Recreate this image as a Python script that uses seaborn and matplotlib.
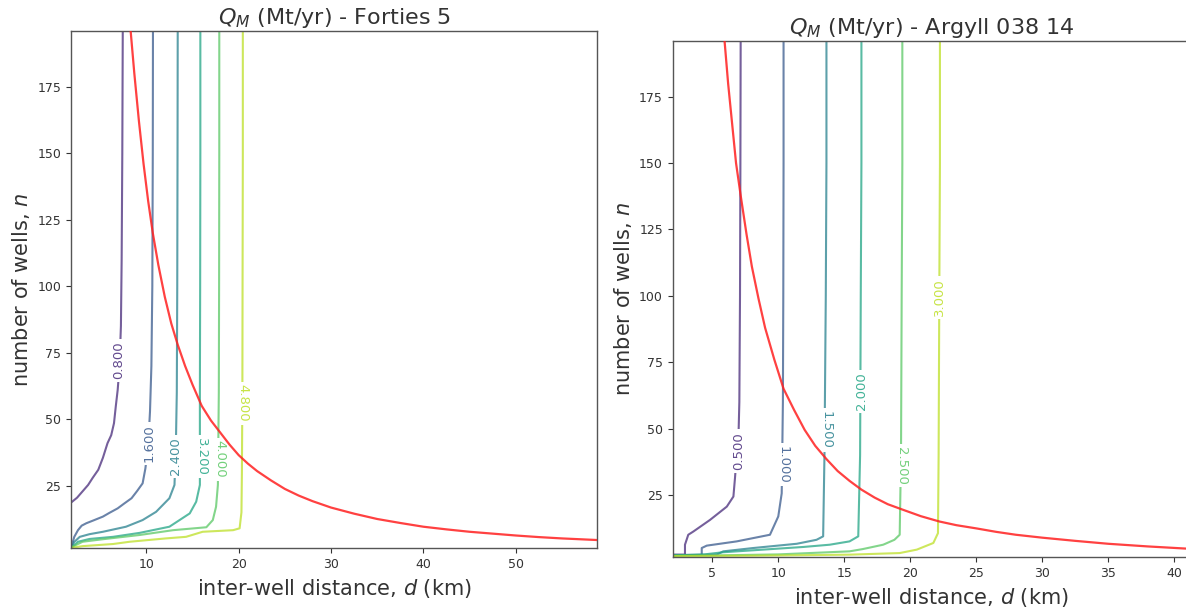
import matplotlib
matplotlib.use("Agg")
import matplotlib.pyplot as plt
import numpy as np
import seaborn as sns

# ---- Forties 5 : contour lines of Q_M ----------------------------------
forties_levels = ["0.800", "1.600", "2.400", "3.200", "4.000", "4.800"]
forties_d = [
    [7.45, 7.4, 7.33, 7.25, 7.1, 6.9, 6.7, 6.5, 6.2, 5.8, 5.3, 4.8, 4.2, 3.7, 3.0, 2.5, 1.9],
    [10.72, 10.7, 10.65, 10.55, 10.4, 10.2, 9.9, 9.6, 9.0, 8.4, 7.6, 6.9, 6.0, 5.3, 4.3, 3.5, 3.0, 2.6, 2.2, 1.9],
    [13.4, 13.38, 13.35, 13.3, 13.2, 13.05, 12.5, 11.06, 9.6, 7.8, 5.3, 3.85, 2.8, 2.2, 1.9],
    [15.85, 15.85, 15.83, 15.8, 15.8, 15.4, 14.7, 12.5, 9.3, 6.4, 3.85, 2.6, 1.95],
    [17.9, 17.9, 17.88, 17.85, 17.75, 17.55, 17.2, 16.5, 12.9, 9.3, 5.3, 3.1, 2.0],
    [20.45, 20.45, 20.42, 20.4, 20.35, 20.3, 20.1, 19.4, 16.1, 14.3, 12.1, 8.2, 6.4, 3.1, 1.9],
]
forties_n = [
    [196, 150, 110, 85, 70, 61, 55, 48.5, 44, 41, 35.5, 31, 28, 25.3, 22.5, 20.5, 18.8],
    [196, 150, 100, 70, 53, 40, 31.5, 25.9, 23, 20.3, 18.3, 16.5, 14.8, 13.4, 12, 10.9, 10, 8.3, 5.8, 2.1],
    [196, 150, 100, 60, 40, 25.3, 20.3, 15.2, 12.1, 9.6, 7.7, 6.8, 5.8, 3.9, 1.7],
    [196, 150, 100, 60, 25.3, 19, 14.6, 9.6, 7.3, 5.8, 5.0, 3.95, 1.8],
    [196, 150, 100, 60, 25.3, 17.1, 12.1, 9.4, 8.3, 6.5, 4.9, 3.95, 2.1],
    [196, 150, 100, 60, 30, 15, 9, 8.3, 7.7, 5.8, 5.2, 3.95, 3.1, 2.3, 1.7],
]
forties_red_d = [8.3, 8.7, 9.2, 9.7, 10.2, 10.7, 11.3, 12, 12.7, 13.4, 14.2, 15, 16, 17, 18,
                 19, 20, 21, 22, 23.5, 25, 26.5, 28, 30, 32.5, 35, 37.5, 40, 42.5, 45,
                 47.5, 50, 52.5, 55, 58.8]
forties_red_n = [196, 180, 162, 146, 132, 120, 108, 96, 86, 78, 70, 63, 55, 49.5, 45,
                 40.5, 36.5, 33.3, 30.5, 27, 23.8, 21.3, 19.2, 16.8, 14.5, 12.5, 11, 9.6, 8.6, 7.7,
                 7, 6.3, 5.7, 5.2, 4.6]

# ---- Argyll 038 14 -----------------------------------------------------
argyll_levels = ["0.500", "1.000", "1.500", "2.000", "2.500", "3.000"]
argyll_d = [
    [7.15, 7.13, 7.1, 7.05, 7.0, 6.85, 6.72, 6.6, 6.1, 4.83, 3.56, 3.18, 2.93, 2.93, 2.0],
    [10.4, 10.4, 10.38, 10.35, 10.3, 10.26, 10.0, 9.37, 6.85, 4.58, 4.2, 4.2, 2.0],
    [13.65, 13.65, 13.6, 13.5, 13.4, 12.9, 11.4, 8.1, 5.83, 5.33, 2.0],
    [16.3, 16.3, 16.25, 16.2, 16.06, 15.4, 13.9, 11.9, 8.86, 5.8, 4.4, 2.0],
    [19.4, 19.4, 19.35, 19.3, 19.2, 18.8, 17.95, 16.4, 15.4, 10, 5, 2.0],
    [22.25, 22.25, 22.2, 22.15, 22.1, 21.75, 20.5, 19.2, 15.4, 8, 2.0],
]
argyll_n = [
    [196, 150, 100, 60, 50, 40, 31.4, 24.4, 20.6, 15.6, 11.2, 10, 6.25, 2.5, 2.5],
    [196, 150, 100, 60, 40, 25.6, 16.9, 10, 7.5, 5.9, 5.0, 2.4, 2.4],
    [196, 150, 100, 40, 9.4, 8.1, 6.6, 5.0, 3.75, 2.5, 2.3],
    [196, 150, 100, 40, 9.4, 7.5, 6.25, 5.4, 4.4, 3.4, 2.6, 2.2],
    [196, 150, 100, 40, 10, 8.1, 6.25, 4.6, 3.75, 2.6, 2.2, 2.1],
    [196, 150, 100, 40, 10.6, 6.9, 4.4, 3.1, 2.5, 2.1, 2.0],
]
argyll_red_d = [5.93, 6.2, 6.5, 6.8, 7.16, 7.6, 8, 8.5, 9, 9.7, 10.4, 11.2, 12, 12.8, 13.65,
                14.5, 15.4, 16.3, 17.3, 18.3, 19.4, 20.8, 22.2, 23.5, 25, 26.5, 28, 30,
                32.5, 35, 38, 41.2]
argyll_red_n = [196, 180, 165, 150, 137.5, 123, 111, 99, 88, 76, 65, 57, 49.5, 43.5, 38.5,
                34, 30.3, 27, 24, 21.5, 19.5, 17, 15, 13.6, 12.4, 11.1, 10, 8.9,
                7.7, 6.6, 5.6, 4.7]

# inline label placement (d, n, rotation)
forties_lab = [(7.05, 72, 90), (10.35, 41, 90), (13.2, 36, 90),
               (15.95, 36, -90), (17.95, 35, -90), (20.42, 56, -90)]
argyll_lab = [(7.0, 41.5, 90), (10.33, 36.5, -90), (13.62, 49.5, -90),
              (16.28, 64, 90), (19.35, 36, -90), (22.2, 99.5, 90)]

sns.set_theme(style="white")
plt.rcParams["font.family"] = ["DejaVu Sans"]
plt.rcParams["mathtext.fontset"] = "dejavusans"

colors = [plt.cm.viridis(v) for v in np.linspace(0.12, 0.9, 6)]
text_col = "#333333"


def draw_panel(ax, ds, ns, levels, labs, red_d, red_n, xlim, xticks, title):
    for d, n, c in zip(ds, ns, colors):
        sns.lineplot(x=d, y=n, sort=False, estimator=None, color=c,
                     linewidth=1.5, alpha=0.75, ax=ax)
    for (x, y, rot), lab, c in zip(labs, levels, colors):
        ax.text(x, y, lab, rotation=rot, ha="center", va="center", color=c,
                alpha=0.85, fontsize=9.5, zorder=3,
                bbox=dict(fc="white", ec="none", pad=2))
    sns.lineplot(x=red_d, y=red_n, sort=False, estimator=None, color="#ff2020",
                 linewidth=1.6, alpha=0.85, ax=ax, zorder=4)
    ax.set_xlim(*xlim)
    ax.set_ylim(1.5, 196)
    ax.set_xticks(xticks)
    ax.set_yticks([25, 50, 75, 100, 125, 150, 175])
    ax.tick_params(axis="both", which="major", labelsize=9, colors=text_col,
                   left=True, bottom=True, length=3.5, width=0.8)
    for s in ax.spines.values():
        s.set_color("#555555")
        s.set_linewidth(1.0)
    ax.set_xlabel("inter-well distance, $d$ (km)", fontsize=15, color=text_col)
    ax.set_ylabel("number of wells, $n$", fontsize=15, color=text_col)
    ax.set_title(title, fontsize=16, color=text_col, pad=5)


fig = plt.figure(figsize=(11.86, 6.15), dpi=100)
ax1 = fig.add_axes([0.0599, 0.1085, 0.4435, 0.8416])
ax2 = fig.add_axes([0.5672, 0.0938, 0.4362, 0.8395])

draw_panel(ax1, forties_d, forties_n, forties_levels, forties_lab,
           forties_red_d, forties_red_n, (1.85, 58.8), [10, 20, 30, 40, 50],
           "$Q_M$ (Mt/yr) - Forties 5")
draw_panel(ax2, argyll_d, argyll_n, argyll_levels, argyll_lab,
           argyll_red_d, argyll_red_n, (2.0, 41.2), [5, 10, 15, 20, 25, 30, 35, 40],
           "$Q_M$ (Mt/yr) - Argyll 038 14")

fig.savefig("out.png", dpi=100)
